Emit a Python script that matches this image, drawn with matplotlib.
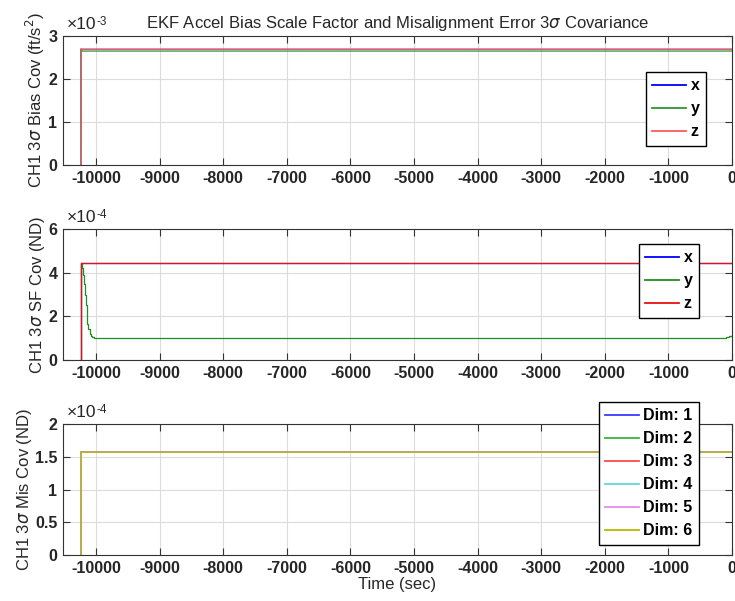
import numpy as np
import matplotlib
matplotlib.use('Agg')
from matplotlib import pyplot as plt
from matplotlib.ticker import FuncFormatter

plt.rcParams['font.family'] = ['Liberation Sans', 'DejaVu Sans']
plt.rcParams['mathtext.fontset'] = 'dejavusans'
plt.rcParams['axes.unicode_minus'] = False

# Time base (sec) and covariance histories
t_bias = [-10240, -10238, -10215, 0]
bias_x = [0, 2.69e-3, 2.69e-3, 2.69e-3]
bias_y = [0, 2.70e-3, 2.65e-3, 2.65e-3]
bias_z = [0, 2.69e-3, 2.69e-3, 2.69e-3]

t_sf = [-10240, -10238, -10225, -10210, -10195, -10180, -10165, -10150, -10135,
        -10120, -10100, -10080, -10060, -10040, -10020, -10000, -140, -100, -50, 0]
sf_x = [0, 4.43e-4, 4.43e-4, 4.43e-4, 4.43e-4, 4.43e-4, 4.43e-4, 4.43e-4, 4.43e-4,
        4.43e-4, 4.43e-4, 4.43e-4, 4.43e-4, 4.43e-4, 4.43e-4, 4.43e-4, 4.43e-4,
        4.43e-4, 4.43e-4, 4.43e-4]
sf_y = [0, 4.43e-4, 4.20e-4, 3.90e-4, 3.50e-4, 3.00e-4, 2.50e-4, 2.00e-4, 1.65e-4,
        1.40e-4, 1.20e-4, 1.10e-4, 1.05e-4, 1.02e-4, 1.01e-4, 1.00e-4, 1.00e-4,
        1.05e-4, 1.10e-4, 1.15e-4]
sf_z = sf_x

t_mis = [-10240, -10238, 0]
mis_dims = [[0, 1.57e-4, 1.57e-4] for _ in range(6)]

xticks = [-10000, -9000, -8000, -7000, -6000, -5000, -4000, -3000, -2000, -1000, 0]

W, H = 735, 601
fig = plt.figure(figsize=(W / 100, H / 100), dpi=100)
expLabels = []


def makeAxes(top, bottom):
    ax = fig.add_axes([63 / W, (H - bottom) / H, (732 - 63) / W, (bottom - top) / H])
    ax.set_xlim(-10520, 0)
    ax.set_xticks(xticks)
    ax.grid(True, color='#dcdcdc', linewidth=0.8)
    ax.set_axisbelow(True)
    ax.tick_params(direction='in', top=True, right=True, length=5,
                   width=0.8, color='#333333', labelsize=11.5, pad=4)
    for lbl in ax.get_xticklabels() + ax.get_yticklabels():
        lbl.set_fontweight('bold')
        lbl.set_color('#262626')
    for s in ax.spines.values():
        s.set_color('#333333')
        s.set_linewidth(0.8)
    return ax


# Format ticks scaled, and put the exponent above the axis like MATLAB
def scaleTicks(ax, scale, exp):
    ax.yaxis.set_major_formatter(FuncFormatter(lambda v, p: '%g' % round(v / scale, 4)))
    for lbl in ax.get_yticklabels():
        lbl.set_fontweight('bold')
        lbl.set_color('#262626')
    base = ax.text(0.005, 1.03, '\u00d710', transform=ax.transAxes,
                   fontsize=12.5, color='#262626', ha='left', va='bottom')
    expLabels.append((base, '%d' % exp))


def styleLegend(leg):
    leg.get_frame().set_edgecolor('black')
    leg.get_frame().set_linewidth(1.0)
    for txt in leg.get_texts():
        txt.set_fontweight('bold')
    for ln in leg.get_lines():
        ln.set_linewidth(1.3)


legKw = dict(fontsize=11.5, handlelength=2.1, handletextpad=0.3, labelspacing=0.5,
             borderpad=0.4, borderaxespad=0, fancybox=False, framealpha=1,
             loc='upper right')

# Bias
ax1 = makeAxes(36, 165)
ax1.plot(t_bias, bias_x, color='#0000ff', lw=0.9, label='x')
ax1.plot(t_bias, bias_y, color='#2e962e', lw=0.9, label='y')
ax1.plot(t_bias, bias_z, color='#ff5a5a', lw=0.9, label='z')
ax1.set_ylim(0, 3e-3)
ax1.set_yticks([0, 1e-3, 2e-3, 3e-3])
scaleTicks(ax1, 1e-3, -3)
ax1.set_ylabel(r'CH1 3$\sigma$ Bias Cov (ft/s$^2$)', fontsize=12, color='#262626',
               labelpad=1)
ax1.set_title(r'EKF Accel Bias Scale Factor and Misalignment Error 3$\sigma$ Covariance',
              fontsize=12, color='#262626', pad=6)
styleLegend(ax1.legend(bbox_to_anchor=(706 / W, (H - 72) / H),
                       bbox_transform=fig.transFigure, **legKw))

# Scale factor
ax2 = makeAxes(229, 360)
ax2.plot(t_sf, sf_x, color='#0000ff', lw=0.9, label='x', drawstyle='steps-post')
ax2.plot(t_sf, sf_y, color='#1f8f1f', lw=0.9, label='y', drawstyle='steps-post')
ax2.plot(t_sf, sf_z, color='#e81010', lw=0.9, label='z', drawstyle='steps-post')
ax2.set_ylim(0, 6e-4)
ax2.set_yticks([0, 2e-4, 4e-4, 6e-4])
scaleTicks(ax2, 1e-4, -4)
ax2.set_ylabel(r'CH1 3$\sigma$ SF Cov (ND)', fontsize=12, color='#262626', labelpad=1)
styleLegend(ax2.legend(bbox_to_anchor=(699 / W, (H - 244) / H),
                       bbox_transform=fig.transFigure, **legKw))

# Misalignment
dimColors = ['#3a3aff', '#3cb43c', '#ff4a4a', '#5ed8d8', '#e68ce6', '#b9b900']
ax3 = makeAxes(424, 555)
for i, (vals, c) in enumerate(zip(mis_dims, dimColors)):
    ax3.plot(t_mis, vals, color=c, lw=0.9, label='Dim: %d' % (i + 1))
ax3.set_ylim(0, 2e-4)
ax3.set_yticks([0, 0.5e-4, 1e-4, 1.5e-4, 2e-4])
scaleTicks(ax3, 1e-4, -4)
ax3.set_ylabel(r'CH1 3$\sigma$ Mis Cov (ND)', fontsize=12, color='#262626', labelpad=1)
ax3.set_xlabel('Time (sec)', fontsize=12, color='#262626', labelpad=1)
styleLegend(ax3.legend(bbox_to_anchor=(699 / W, (H - 402) / H),
                       bbox_transform=fig.transFigure, **legKw))

# Superscript exponents sit right after the "x10" text
fig.canvas.draw()
for base, s in expLabels:
    bb = base.get_window_extent()
    fig.text(bb.x1 / W + 0.001, (bb.y1 + 1) / H, s, fontsize=8.5,
             color='#262626', ha='left', va='top')

fig.savefig('out.png', dpi=100)
